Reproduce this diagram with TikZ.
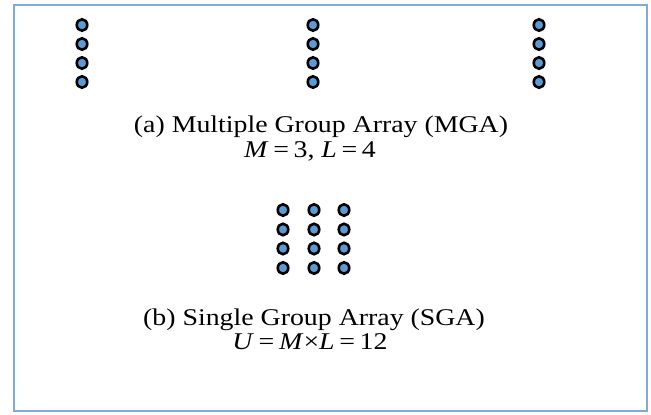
\documentclass[tikz,border=0pt]{standalone}
\usepackage{fontspec}
\usepackage{graphicx}
\setmainfont{Liberation Serif}
\usetikzlibrary{shapes.geometric}
\definecolor{framecol}{HTML}{7FAADF}
\definecolor{dotfill}{HTML}{5B9BD5}
\newcommand{\wide}[1]{\scalebox{1.16}[1]{#1}}
\tikzset{
  elem/.style={draw=black, line width=2.6pt, fill=dotfill, ellipse, minimum width=10.5pt, minimum height=11.5pt, inner sep=0pt},
  caption/.style={anchor=base, font=\fontsize{24}{28}\selectfont, inner sep=0pt}
}
\begin{document}
\begin{tikzpicture}[x=1pt,y=-1pt]
\useasboundingbox (0,0) rectangle (651,415);
\draw[framecol, line width=1.6pt] (14,5) rectangle (647,411);
% MGA columns
\foreach \c/\x in {1/82,2/313,3/539}{
  \foreach \r/\y in {1/25,2/44,3/63,4/82}{
    \node[elem] (m\c\r) at (\x,\y) {};
  }
}
% SGA
\foreach \c/\x in {1/283,2/314,3/344}{
  \foreach \r/\y in {1/210,2/229.5,3/248.5,4/268}{
    \node[elem] (s\c\r) at (\x,\y) {};
  }
}
\node[caption] (capa) at (321,132) {\wide{(a) Multiple Group Array (MGA)}};
\node[caption] (capa2) at (310,157) {\wide{\textit{M}\,=\,3, \textit{L}\,=\,4}};
\node[caption] (capb) at (314,325) {\wide{(b) Single Group Array (SGA)}};
\node[caption] (capb2) at (310,349) {\wide{\textit{U}\,=\,\textit{M}×\textit{L}\,=\,12}};
\end{tikzpicture}
\end{document}
